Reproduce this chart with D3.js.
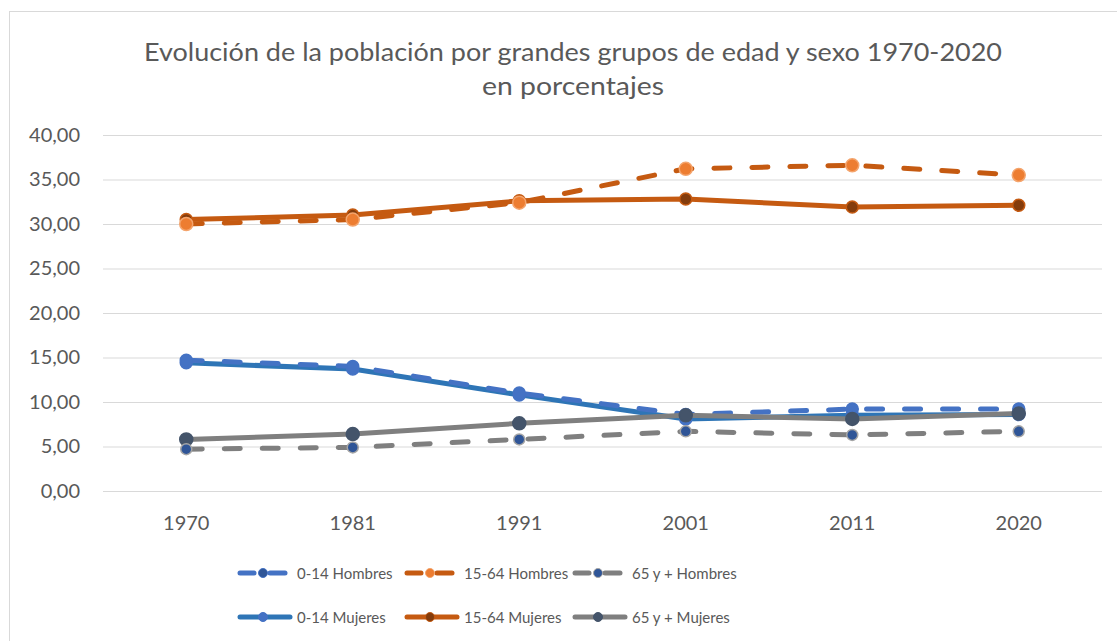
<!DOCTYPE html>
<html>
<head>
<meta charset="utf-8">
<script src="https://cdn.jsdelivr.net/npm/d3@7"></script>
<style>
  body { margin: 0; background: #fff; }
  text { font-family: Lato, "Open Sans", sans-serif; fill: #595959; }
</style>
</head>
<body>
<div class="viz"></div>
<script>
// data
const years = ["1970", "1981", "1991", "2001", "2011", "2020"];
const yTicks = [0, 5, 10, 15, 20, 25, 30, 35, 40];

const h0_14 = [14.7, 14.0, 11.0, 8.6, 9.2, 9.2];
const h15_64 = [30.0, 30.5, 32.4, 36.2, 36.6, 35.5];
const h65 = [4.7, 4.9, 5.8, 6.7, 6.3, 6.7];
const m0_14 = [14.4, 13.7, 10.8, 8.1, 8.5, 8.6];
const m15_64 = [30.5, 31.0, 32.6, 32.8, 31.9, 32.1];
const m65 = [5.8, 6.4, 7.6, 8.5, 8.1, 8.7];

const series = [
    {name: "0-14 Hombres", values: h0_14, color: "#4472C4", marker: "#4472C4", mstroke: "#4472C4", r: 6, dash: true},
    {name: "15-64 Hombres", values: h15_64, color: "#C55A11", marker: "#ED7D31", mstroke: "#F4A46C", r: 6.5, dash: true},
    {name: "65 y + Hombres", values: h65, color: "#7F7F7F", marker: "#2F5597", mstroke: "#A5A5A5", r: 5.5, dash: true},
    {name: "0-14 Mujeres", values: m0_14, color: "#2E75B6", marker: "#4472C4", mstroke: "#4472C4", r: 6, dash: false},
    {name: "15-64 Mujeres", values: m15_64, color: "#C55A11", marker: "#843C0C", mstroke: "#C55A11", r: 6, dash: false},
    {name: "65 y + Mujeres", values: m65, color: "#7F7F7F", marker: "#44546A", mstroke: "#44546A", r: 6.5, dash: false}
];

const width = 1117, height = 641;

const svg = d3.select(".viz").append("svg")
    .attr("width", width)
    .attr("height", height);

svg.append("rect")
    .attr("x", 9.5).attr("y", 11.5)
    .attr("width", 1120).attr("height", 640)
    .attr("fill", "#fff")
    .attr("stroke", "#D9D9D9");

// title
const title = svg.append("g");
title.append("text")
    .attr("x", 573).attr("y", 61)
    .attr("text-anchor", "middle")
    .attr("font-size", 25)
    .attr("textLength", 858)
    .attr("lengthAdjust", "spacingAndGlyphs")
    .text("Evolución de la población por grandes grupos de edad y sexo 1970-2020");
title.append("text")
    .attr("x", 573).attr("y", 95)
    .attr("text-anchor", "middle")
    .attr("font-size", 25)
    .attr("textLength", 182)
    .attr("lengthAdjust", "spacingAndGlyphs")
    .text("en porcentajes");

const x = d3.scaleBand()
    .domain(years)
    .range([103, 1102]);

const y = d3.scaleLinear()
    .domain([0, 40])
    .range([491, 135]);

// gridlines
svg.append("g")
    .selectAll("line")
    .data(yTicks)
    .enter().append("line")
    .attr("x1", 103).attr("x2", 1102)
    .attr("y1", d => y(d) + 0.5)
    .attr("y2", d => y(d) + 0.5)
    .attr("stroke", "#D9D9D9")
    .attr("stroke-width", 1);

// y axis labels
const fmt = d => d.toFixed(2).replace(".", ",");
const yAxis = svg.append("g")
    .attr("transform", "translate(80,0)")
    .call(d3.axisLeft(y).tickValues(yTicks).tickFormat(fmt).tickSize(0).tickPadding(0));
yAxis.select(".domain").remove();
yAxis.selectAll("text")
    .attr("font-size", 20)
    .attr("fill", "#595959")
    .style("font-family", "Lato, 'Open Sans', sans-serif");

// x axis labels
const xAxis = svg.append("g")
    .attr("transform", "translate(0,491)")
    .call(d3.axisBottom(x).tickSize(0).tickPadding(25));
xAxis.select(".domain").remove();
xAxis.selectAll("text")
    .attr("font-size", 20)
    .attr("fill", "#595959")
    .style("font-family", "Lato, 'Open Sans', sans-serif");

const cx = d => x(d) + x.bandwidth() / 2;

const line = d3.line()
    .x((v, i) => cx(years[i]))
    .y(v => y(v));

// stacking order of the lines
const order = [4, 1, 3, 0, 5, 2];
order.forEach(idx => {
    const s = series[idx];
    svg.append("path")
        .datum(s.values)
        .attr("d", line)
        .attr("fill", "none")
        .attr("stroke", s.color)
        .attr("stroke-width", 5)
        .attr("stroke-linecap", "round")
        .attr("stroke-linejoin", "round")
        .attr("stroke-dasharray", s.dash ? "16 22" : null);

    svg.append("g")
        .selectAll("circle")
        .data(s.values)
        .enter().append("circle")
        .attr("cx", (v, i) => cx(years[i]))
        .attr("cy", v => y(v))
        .attr("r", s.r)
        .attr("fill", s.marker)
        .attr("stroke", s.mstroke)
        .attr("stroke-width", 1.5);
});

// legend
const legendX = [238, 405, 573];
const legendY = [573, 617];
series.forEach((s, i) => {
    const col = i % 3, row = Math.floor(i / 3);
    const lg = svg.append("g")
        .attr("transform", "translate(" + legendX[col] + "," + legendY[row] + ")");
    const w = row === 0 ? 47 : 52;
    if (s.dash) {
        lg.append("line").attr("x1", 2).attr("x2", 16).attr("y1", 0).attr("y2", 0)
            .attr("stroke", s.color).attr("stroke-width", 5).attr("stroke-linecap", "round");
        lg.append("line").attr("x1", 32).attr("x2", w).attr("y1", 0).attr("y2", 0)
            .attr("stroke", s.color).attr("stroke-width", 5).attr("stroke-linecap", "round");
    } else {
        lg.append("line").attr("x1", 2).attr("x2", w).attr("y1", 0).attr("y2", 0)
            .attr("stroke", s.color).attr("stroke-width", 5).attr("stroke-linecap", "round");
    }
    lg.append("circle")
        .attr("cx", 25).attr("cy", 0)
        .attr("r", 4.5)
        .attr("fill", i === 0 ? "#2F5597" : s.marker)
        .attr("stroke", s.mstroke)
        .attr("stroke-width", 1);
    lg.append("text")
        .attr("x", 59)
        .attr("y", 6)
        .attr("font-size", 15)
        .attr("fill", "#404040")
        .text(s.name);
});
</script>
</body>
</html>
